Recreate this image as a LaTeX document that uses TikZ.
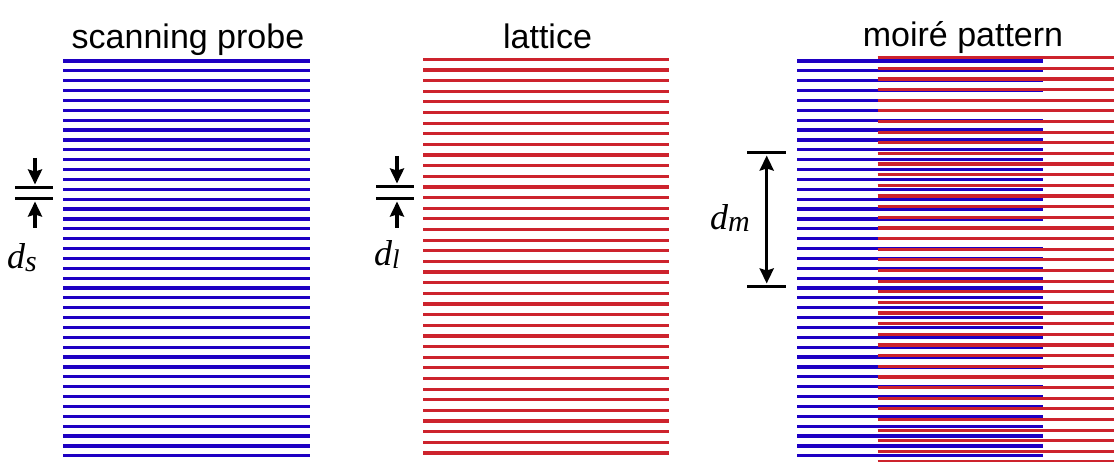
\documentclass[tikz,border=0pt]{standalone}
\usepackage{fontspec}
\setmainfont{Liberation Serif}
\setsansfont{Liberation Sans}
\usetikzlibrary{arrows.meta}
\definecolor{pblue}{RGB}{30,0,195}
\definecolor{pred}{RGB}{205,35,45}
\begin{document}
\begin{tikzpicture}[x=1pt,y=-1pt,
  bline/.style={pblue,line width=3.2pt},
  rline/.style={pred,line width=3.2pt},
  bar/.style={black,line width=3.4pt},
  darrow/.style={black,line width=3.2pt,-{Stealth[length=15pt,width=14pt,inset=2pt]}},
  dblarrow/.style={black,line width=3.2pt,{Stealth[length=15pt,width=14pt,inset=2pt]}-{Stealth[length=15pt,width=14pt,inset=2pt]}},
  title/.style={font=\sffamily\fontsize{34}{34}\selectfont, anchor=base, inner sep=0pt},
  lab/.style={font=\fontsize{36}{36}\selectfont\itshape, anchor=base west, inner sep=0pt}]
\useasboundingbox (0,0) rectangle (1114,462);
\fill[white] (0,0) rectangle (1114,462);

% scanning probe (blue)
\foreach \i in {0,...,40} {
  \draw[bline] (63,{61+9.87*\i}) -- (310,{61+9.87*\i});
}
% lattice (red)
\foreach \i in {0,...,37} {
  \draw[rline] (423,{59.3+10.64*\i}) -- (669,{59.3+10.64*\i});
}
% moire pattern
\begin{scope}
  \clip (0,0) rectangle (1114,462);
  \foreach \i in {0,...,40} {
    \draw[bline] (797,{61+9.87*\i}) -- (1043,{61+9.87*\i});
  }
  \foreach \i in {0,...,38} {
    \draw[rline] (877.7,{57.7+10.64*\i}) -- (1124,{57.7+10.64*\i});
  }
\end{scope}

% titles
\node[title] (t1) at (188,49) {scanning probe};
\node[title] (t2) at (547.5,49) {lattice};
\node[title] (t3) at (963,47) {moiré pattern};

% d_s marker
\coordinate (sb1l) at (15,187.7); \coordinate (sb1r) at (53.3,187.7);
\coordinate (sb2l) at (15,198.3); \coordinate (sb2r) at (53.3,198.3);
\draw[bar] (sb1l) -- (sb1r);
\draw[bar] (sb2l) -- (sb2r);
\coordinate (sa0) at (35,158); \coordinate (sa1) at (35,184.5);
\coordinate (sa2) at (35,228); \coordinate (sa3) at (35,201.5);
\draw[darrow] (sa0) -- (sa1);
\draw[darrow] (sa2) -- (sa3);
\node[lab] (ds) at (7,269) {d\raisebox{-3pt}{\fontsize{30}{30}\selectfont s}};

% d_l marker
\coordinate (lb1l) at (376,186.7); \coordinate (lb1r) at (414.3,186.7);
\coordinate (lb2l) at (376,198.3); \coordinate (lb2r) at (414.3,198.3);
\draw[bar] (lb1l) -- (lb1r);
\draw[bar] (lb2l) -- (lb2r);
\coordinate (la0) at (397,156); \coordinate (la1) at (397,183.5);
\coordinate (la2) at (397,228); \coordinate (la3) at (397,201.5);
\draw[darrow] (la0) -- (la1);
\draw[darrow] (la2) -- (la3);
\node[lab] (dl) at (374,266) {d\raisebox{-3pt}{\fontsize{27}{27}\selectfont l}};

% d_m marker
\coordinate (mb1l) at (747,152.3); \coordinate (mb1r) at (786,152.3);
\coordinate (mb2l) at (747,286.7); \coordinate (mb2r) at (786,286.7);
\draw[bar] (mb1l) -- (mb1r);
\draw[bar] (mb2l) -- (mb2r);
\coordinate (ma0) at (766.7,155.5); \coordinate (ma1) at (766.7,283.5);
\draw[dblarrow] (ma0) -- (ma1);
\node[lab] (dm) at (710,230) {d\raisebox{-2pt}{\fontsize{30}{30}\selectfont m}};
\end{tikzpicture}
\end{document}
